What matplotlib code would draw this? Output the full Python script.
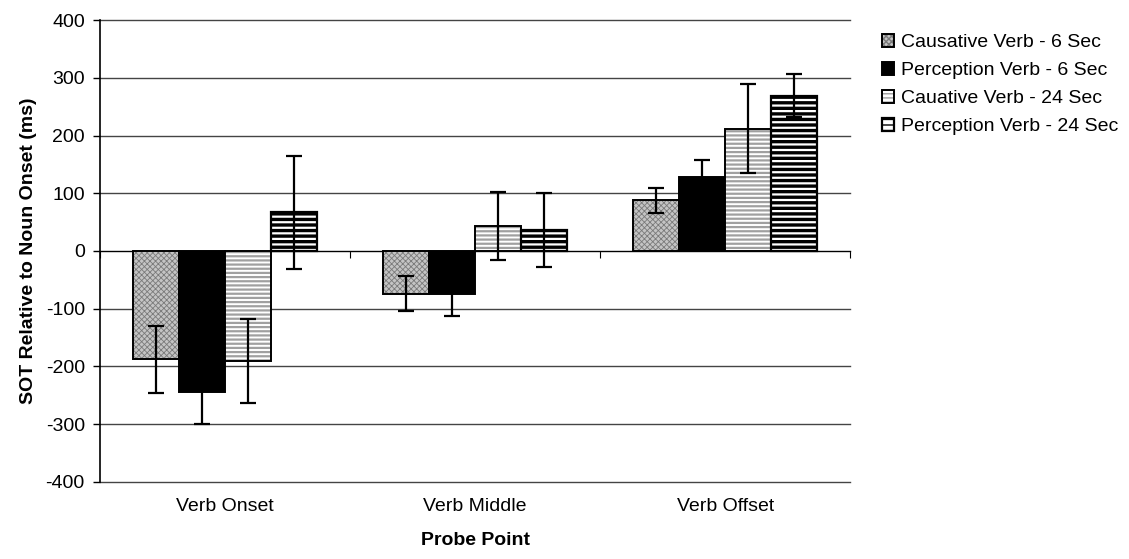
import matplotlib
matplotlib.use("Agg")
import matplotlib.pyplot as plt
import matplotlib.transforms as mtransforms
import numpy as np

plt.rcParams['font.family'] = ['Liberation Sans', 'DejaVu Sans']
plt.rcParams['axes.unicode_minus'] = False

categories = ["Verb Onset", "Verb Middle", "Verb Offset"]
series = ["Causative Verb - 6 Sec", "Perception Verb - 6 Sec",
          "Cauative Verb - 24 Sec", "Perception Verb - 24 Sec"]
caus6 = [-188, -74, 88]
perc6 = [-245, -75, 128]
caus24 = [-191, 43, 212]
perc24 = [67, 37, 269]
caus6_err = [58, 30, 22]
perc6_err = [54, 38, 29]
caus24_err = [73, 59, 77]
perc24_err = [98, 64, 37]
yticks = [-400, -300, -200, -100, 0, 100, 200, 300, 400]

values = [caus6, perc6, caus24, perc24]
errs = [caus6_err, perc6_err, caus24_err, perc24_err]

fig = plt.figure(figsize=(11.29, 5.59), dpi=100)
ax = fig.add_axes([0.0886, 0.138, 0.6645, 0.826])

x = np.arange(len(categories))
w = 0.184
offsets = [-1.5 * w, -0.5 * w, 0.5 * w, 1.5 * w]

# Causative 6: gray stippled
plt.rcParams['hatch.linewidth'] = 0.6
b0 = ax.bar(x + offsets[0], caus6, w, facecolor='#c4c4c4', edgecolor='#7a7a7a',
            hatch='xxxxxx', linewidth=0, zorder=3)
b0o = ax.bar(x + offsets[0], caus6, w, facecolor='none', edgecolor='black', linewidth=1.4, zorder=4)
# Perception 6: black solid
b1 = ax.bar(x + offsets[1], perc6, w, facecolor='black', edgecolor='black', linewidth=1.4, zorder=3)
# Causative 24: white with gray stippled stripes
plt.rcParams['hatch.linewidth'] = 1.6
b2 = ax.bar(x + offsets[2], caus24, w, facecolor='white', edgecolor='#a0a0a0',
            hatch='----', linewidth=0, zorder=3)
b2o = ax.bar(x + offsets[2], caus24, w, facecolor='none', edgecolor='black', linewidth=1.4, zorder=4)
# Perception 24: white with thick black stripes
plt.rcParams['hatch.linewidth'] = 2.4
b3 = ax.bar(x + offsets[3], perc24, w, facecolor='white', edgecolor='black',
            hatch='---', linewidth=1.6, zorder=3)
plt.rcParams['hatch.linewidth'] = 1.0

for off, v, e in zip(offsets, values, errs):
    ax.errorbar(x + off, v, yerr=e, fmt='none', ecolor='black', elinewidth=1.6,
                capsize=6, capthick=1.6, zorder=5)

ax.set_ylim(-400, 400)
ax.set_xlim(-0.5, 2.5)
ax.set_yticks(yticks)
ax.tick_params(axis='y', labelsize=14, length=5, direction='out', width=1, pad=6)
ax.yaxis.grid(True, color='#444444', linewidth=1.0, zorder=0)
for gl in ax.get_ygridlines():
    gl.set_clip_on(False)
ax.set_axisbelow(True)

ax.spines['top'].set_visible(False)
ax.spines['right'].set_visible(False)
ax.spines['bottom'].set_position(('data', 0))
ax.spines['bottom'].set_color('black')
ax.spines['left'].set_linewidth(1.2)
ax.set_xticks([-0.5, 0.5, 1.5, 2.5])
ax.set_xticklabels([])
ax.tick_params(axis='x', length=5, direction='out')

trans = mtransforms.blended_transform_factory(ax.transData, ax.transAxes)
for xi, c in zip(x, categories):
    ax.text(xi, -0.035, c, transform=trans, ha='center', va='top', fontsize=14)

ax.text(0.5, -0.108, "Probe Point", transform=ax.transAxes, ha='center', va='top',
        fontsize=14, fontweight='bold')
ax.set_ylabel("SOT Relative to Noun Onset (ms)", fontsize=14, fontweight='bold', labelpad=6)

handles = [(b0, b0o), b1, (b2, b2o), b3]
leg = fig.legend(handles, series, loc='upper left', bbox_to_anchor=(0.781, 0.94),
                 frameon=False, fontsize=14, handlelength=0.65, handleheight=0.65,
                 handletextpad=0.35, labelspacing=0.55, borderaxespad=0, borderpad=0)

fig.savefig("out.png", dpi=100)
